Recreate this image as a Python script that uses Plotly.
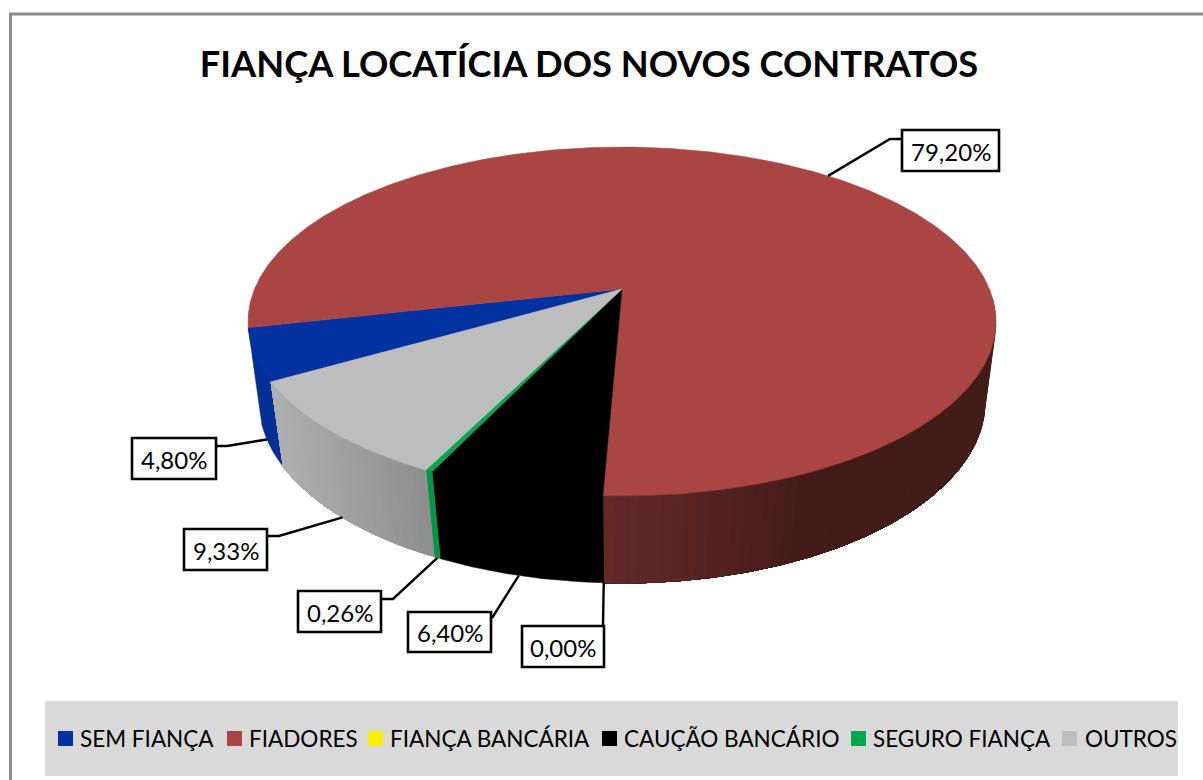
import numpy as np
import plotly.graph_objects as go

# --- data ---
categories = ["SEM FIANÇA", "FIADORES", "FIANÇA BANCÁRIA", "CAUÇÃO BANCÁRIO", "SEGURO FIANÇA", "OUTROS"]
values = [4.80, 79.20, 0.00, 6.40, 0.26, 9.33]
value_labels = ["4,80%", "79,20%", "0,00%", "6,40%", "0,26%", "9,33%"]
title_text = "FIANÇA LOCATÍCIA DOS NOVOS CONTRATOS"

# --- style ---
top_colors = ["#0033A0", "#A94543", "#F7F000", "#000000", "#00A84F", "#BDBDBD"]
FONT = "Lato"
START_ANGLE = 240.0
CX = 622.0
TOP = dict(a=367.5, b=168.4, k=0.186, y0=289.0)
BOT = dict(a=357.7, b=175.8, k=0.17, y0=371.2)
INSET = 0.98  # walls tuck slightly under the top face, so no seam shows along the rim

legend_layout = [(65.5, 78), (234.5, 247), (375.5, 388), (609.5, 622), (858.5, 871), (1069.5, 1082.5)]
# box: x0, x1, y0, y1, elbow x, elbow y, box-side x, box-side y (None when the leader ends at the elbow)
label_layout = [
    (132, 216, 438, 479, 227, 446, 216, 446),
    (902, 999, 130, 171, 890, 139, 902, 139),
    (522, 604, 626, 667, 603, 626, None, None),
    (408, 491, 612, 652, 492, 618, None, None),
    (298, 381, 591, 632, 393, 599, 381, 599),
    (184, 267, 529, 570, 279, 536, 267, 536),
]


def project(theta_deg, g, r=1.0):
    t = np.radians(theta_deg)
    u, v = r * np.sin(t), r * np.cos(t)
    w = 1 + g["k"] * v
    return CX + g["a"] * u / w, g["y0"] - g["b"] * v / w


def lerp_color(stops, x):
    xs = [s[0] for s in stops]
    return "rgb(%d,%d,%d)" % tuple(np.interp(x, xs, [s[1][i] for s in stops]) for i in range(3))


side_stops = {
    0: [(250, (0, 47, 150)), (290, (0, 47, 150))],
    1: [(603, (99, 42, 40)), (700, (86, 36, 34)), (800, (68, 29, 26)), (1000, (66, 28, 25))],
    3: [(0, (0, 0, 0)), (1200, (0, 0, 0))],
    4: [(0, (0, 150, 72)), (1200, (0, 150, 72))],
    5: [(275, (175, 175, 175)), (350, (160, 160, 160)), (432, (140, 140, 140))],
}
shaded = {1: 1.5, 5: 1.0}

total = sum(values)
spans = [v / total * 360.0 for v in values]
starts = []
ang = START_ANGLE
for s in spans:
    starts.append(ang)
    ang += s

fig = go.Figure()


def wall(e0, e1, c):
    arc = np.linspace(e0, e1, max(4, int(abs(e1 - e0) * 2)))
    xi, yi = project(arc, TOP, INSET)
    xe, ye = project(np.array([e1]), TOP)
    xb, yb = project(arc[::-1], BOT)
    xs, ys = project(np.array([e0]), TOP)
    fig.add_trace(go.Scatter(
        x=np.r_[xi, xe, xb, xs, xi[0]], y=np.r_[yi, ye, yb, ys, yi[0]], mode="lines", fill="toself",
        fillcolor=c, line=dict(color=c, width=0.5),
        hoverinfo="skip", showlegend=False))


# side walls: shaded slices are drawn as overlapping strips, each covering the tail of the last
for i, (st, sp) in enumerate(zip(starts, spans)):
    if sp == 0:
        continue
    lo_n, hi_n = st % 360, (st % 360) + sp
    if i == 1:
        lo_n, hi_n = 94.0, (st + sp) % 360
    if i in shaded:
        n = max(2, int((hi_n - lo_n) / shaded[i]))
        edges = np.linspace(lo_n, hi_n, n + 1)
        for j in range(n):
            x_mid = float(np.mean(project(np.array([edges[j], edges[j + 1]]), TOP)[0]))
            wall(edges[j], hi_n, lerp_color(side_stops[i], x_mid))
    else:
        wall(lo_n, hi_n, lerp_color(side_stops[i], float(project(lo_n + sp / 2, TOP)[0])))

# top faces
for i, (st, sp) in enumerate(zip(starts, spans)):
    if sp == 0:
        continue
    arc = np.linspace(st, st + sp, max(3, int(sp * 2)))
    xt, yt = project(arc, TOP)
    fig.add_trace(go.Scatter(
        x=np.r_[CX, xt, CX], y=np.r_[TOP["y0"], yt, TOP["y0"]], mode="lines", fill="toself",
        fillcolor=top_colors[i], line=dict(color=top_colors[i], width=0.5),
        name=categories[i], text=f"{categories[i]}: {value_labels[i]}", hoverinfo="text",
        showlegend=False))

# leader lines, anchored at each slice's mid angle
for i, (st, sp) in enumerate(zip(starts, spans)):
    mid = st + sp / 2
    ax, ay = project(mid, TOP if i == 1 else BOT)
    box = label_layout[i]
    xs, ys = [float(ax), box[4]], [float(ay), box[5]]
    if box[6] is not None:
        xs.append(box[6])
        ys.append(box[7])
    fig.add_trace(go.Scatter(x=xs, y=ys, mode="lines", line=dict(color="black", width=2.4),
                             hoverinfo="skip", showlegend=False))

# legend markers
for i, cat in enumerate(categories):
    fig.add_trace(go.Scatter(
        x=[legend_layout[i][0]], y=[738.5], mode="markers", name=cat,
        marker=dict(symbol="square", size=15, color=top_colors[i], line=dict(width=0)),
        hoverinfo="name", showlegend=False))

shapes = [
    dict(type="rect", x0=10.5, x1=1240, y0=14, y1=800, line=dict(color="#8C8C8C", width=3),
         fillcolor="white", layer="below"),
    dict(type="rect", x0=45, x1=1178, y0=701, y1=776, line=dict(width=0),
         fillcolor="#D9D9D9", layer="below"),
]
annotations = []
for i, cat in enumerate(categories):
    annotations.append(dict(x=legend_layout[i][1], y=738, text=cat, showarrow=False, xanchor="left",
                            yanchor="middle", font=dict(family=FONT, size=22.5, color="black"),
                            xref="x", yref="y"))
for lab, box in zip(value_labels, label_layout):
    shapes.append(dict(type="rect", x0=box[0], x1=box[1], y0=box[2], y1=box[3],
                       line=dict(color="black", width=2.6), fillcolor="white", layer="above"))
    annotations.append(dict(x=(box[0] + box[1]) / 2, y=(box[2] + box[3]) / 2 + 0.5, text=lab, showarrow=False,
                            xanchor="center", yanchor="middle",
                            font=dict(family=FONT, size=24, color="black"), xref="x", yref="y"))

fig.update_layout(
    width=1203, height=780, margin=dict(l=0, r=0, t=0, b=0),
    paper_bgcolor="white", plot_bgcolor="white", showlegend=False,
    title=dict(text=f"<b>{title_text}</b>", x=589 / 1203, xanchor="center", y=1 - 64 / 780, yanchor="middle",
               font=dict(family=FONT, size=36.3, color="black")),
    xaxis=dict(range=[0, 1203], visible=False, fixedrange=True),
    yaxis=dict(range=[780, 0], visible=False, fixedrange=True),
    shapes=shapes, annotations=annotations,
)
fig.write_html("out.html", post_script="document.body.style.margin='0';",
               config=dict(displayModeBar=False))
